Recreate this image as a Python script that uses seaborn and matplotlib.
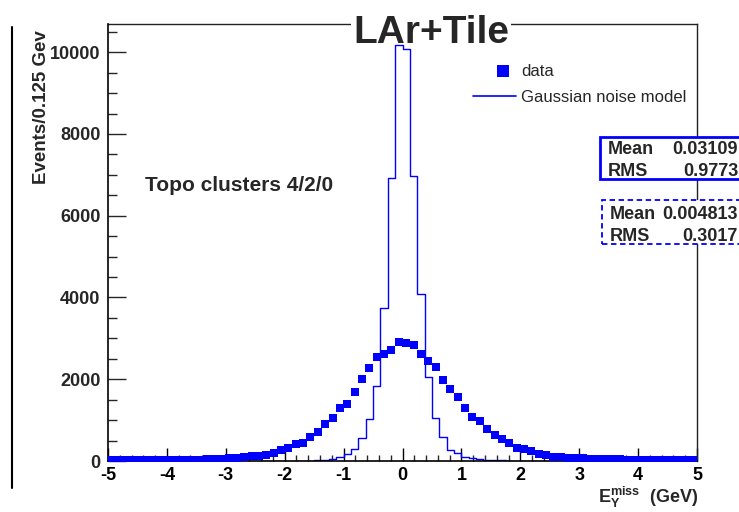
import numpy as np
import pandas as pd
import matplotlib
matplotlib.use("Agg")
import matplotlib.pyplot as plt
import seaborn as sns
from matplotlib.lines import Line2D
from matplotlib.patches import Rectangle
from matplotlib.ticker import MultipleLocator
from matplotlib.legend_handler import HandlerBase

# ---------------- data ----------------
x_min, x_max = -5.0, 5.0
n_bins = 80
bin_width = (x_max - x_min) / n_bins
bin_centers = x_min + bin_width * (np.arange(n_bins) + 0.5)

data_counts = [
    22, 22, 20, 23, 22, 25, 24, 26, 27, 28,
    30, 32, 35, 38, 45, 55, 70, 75, 90, 120,
    130, 150, 205, 270, 310, 410, 435, 580, 715, 895,
    1045, 1290, 1385, 1690, 1995, 2275, 2550, 2615, 2715, 2915,
    2880, 2845, 2615, 2435, 2305, 1975, 1755, 1570, 1305, 1085,
    980, 780, 645, 545, 435, 330, 298, 252, 172, 140,
    108, 100, 82, 72, 65, 58, 48, 45, 40, 38,
    35, 34, 32, 30, 28, 27, 26, 24, 24, 22,
]

noise_counts = [
    0, 0, 0, 0, 0, 0, 0, 0, 0, 0,
    0, 0, 0, 0, 0, 0, 0, 0, 0, 0,
    0, 0, 0, 0, 0, 5, 6, 8, 20, 35,
    60, 110, 163, 295, 555, 1020, 1835, 3750, 6930, 10170,
    10090, 6975, 4075, 2045, 1060, 580, 265, 188, 106, 80,
    55, 30, 22, 15, 10, 7, 5, 0, 0, 0,
    0, 0, 0, 0, 0, 0, 0, 0, 0, 0,
    0, 0, 0, 0, 0, 0, 0, 0, 0, 0,
]

x_ticks = [-5, -4, -3, -2, -1, 0, 1, 2, 3, 4, 5]
y_ticks = [0, 2000, 4000, 6000, 8000, 10000]

stats_data = [("Mean", "0.03109"), ("RMS", "0.9773")]
stats_noise = [("Mean", "0.004813"), ("RMS", "0.3017")]

df = pd.DataFrame({"x": bin_centers, "data": data_counts, "noise": noise_counts})

# ---------------- style ----------------
sns.set_style("white")
plt.rcParams["font.family"] = ["Liberation Sans", "DejaVu Sans"]
plt.rcParams["mathtext.fontset"] = "custom"
plt.rcParams["mathtext.rm"] = "Liberation Sans:bold"
plt.rcParams["mathtext.it"] = "Liberation Sans:bold"
plt.rcParams["mathtext.bf"] = "Liberation Sans:bold"

W, H = 739, 512
fig = plt.figure(figsize=(W / 100, H / 100), dpi=100)
AX_L, AX_R, AX_T, AX_B = 108, 697, 24, 461
ax = fig.add_axes([AX_L / W, (H - AX_B) / H, (AX_R - AX_L) / W, (AX_B - AX_T) / H])

def ax_x(px):
    return (px - AX_L) / (AX_R - AX_L)

def ax_y(py):
    return (AX_B - py) / (AX_B - AX_T)

blue = "#0000ff"

sns.histplot(data=df, x="x", weights="noise", bins=n_bins,
             binrange=(x_min, x_max), element="step",
             fill=False, color=blue, linewidth=1.0, ax=ax, zorder=2.4)
sns.scatterplot(data=df, x="x", y="data", marker="s", color=blue, s=32,
                linewidth=0, ax=ax, zorder=3)

ax.set_xlim(x_min, x_max)
ax.set_ylim(0, 10690)

ax.set_xticks(x_ticks)
ax.set_xticklabels([str(t) for t in x_ticks])
ax.set_yticks(y_ticks)
ax.set_yticklabels([str(t) for t in y_ticks])
ax.xaxis.set_minor_locator(MultipleLocator(0.2))
ax.yaxis.set_minor_locator(MultipleLocator(500))

ax.tick_params(axis="x", which="major", direction="in", length=9.5, width=1,
               bottom=True, top=False, pad=4, labelsize=13, colors="black")
ax.tick_params(axis="x", which="minor", direction="in", length=4.2, width=1,
               bottom=True, top=False)
ax.tick_params(axis="y", which="major", direction="in", length=13, width=1,
               left=True, right=False, pad=5.5, labelsize=13)
ax.tick_params(axis="y", which="minor", direction="in", length=6.5, width=1,
               left=True, right=False)
for lab in ax.get_xticklabels() + ax.get_yticklabels():
    lab.set_fontweight("bold")

for s in ["left", "bottom"]:
    ax.spines[s].set_color("black")
    ax.spines[s].set_linewidth(1.2)
for s in ["top", "right"]:
    ax.spines[s].set_color("#222222")
    ax.spines[s].set_linewidth(1.0)
ax.spines["top"].set_zorder(1.0)

ax.set_ylabel("Events/0.125 Gev", fontsize=13.5, fontweight="bold", loc="top")
ax.yaxis.set_label_coords(ax_x(50), ax_y(30))
ax.set_xlabel(r"$\mathrm{E}_{\mathrm{Y}}^{\mathrm{miss}}$  (GeV)", fontsize=13,
              fontweight="bold", loc="right")
ax.xaxis.label.set_verticalalignment("baseline")
ax.xaxis.set_label_coords(ax_x(698), ax_y(503))

# legend
class MarkerRight(HandlerBase):
    def create_artists(self, legend, orig_handle, xdescent, ydescent,
                       width, height, fontsize, trans):
        m = Line2D([-xdescent + width * 0.714], [height / 2 - ydescent],
                   marker="s", linestyle="none", color=blue, markersize=8,
                   markeredgewidth=0)
        m.set_transform(trans)
        return [m]

data_handle = Line2D([], [], marker="s", linestyle="none", color=blue)
model_handle = Line2D([], [], color=blue, linewidth=1.2)
fig.legend([data_handle, model_handle], ["data", "Gaussian noise model"],
           loc="center left", bbox_to_anchor=(473 / W, 1 - 84.5 / H),
           frameon=False, fontsize=12, handlelength=2.56, handletextpad=0.32,
           labelspacing=0.62, borderpad=0, borderaxespad=0,
           handler_map={data_handle: MarkerRight()})

ax.text(ax_x(145), ax_y(191), "Topo clusters 4/2/0", fontsize=15,
        fontweight="bold", ha="left", va="baseline", transform=ax.transAxes)

# title (covers the top frame line, under the histogram)
ax.text(ax_x(431), ax_y(43), "LAr+Tile", fontsize=28, fontweight="bold",
        ha="center", va="baseline", transform=ax.transAxes, clip_on=False,
        zorder=2.2, bbox=dict(facecolor="white", edgecolor="none", pad=1))

# stats boxes
def stats_box(x0, y0, y1, rows, row_y, ls, lw, text_x, val_x):
    rect = Rectangle((x0 / W, 1 - y1 / H), (W + 10 - x0) / W, (y1 - y0) / H,
                     transform=fig.transFigure, facecolor="white",
                     edgecolor=blue, linewidth=lw, linestyle=ls,
                     zorder=2, clip_on=False)
    fig.add_artist(rect)
    for (k, v), yc in zip(rows, row_y):
        fig.text(text_x / W, 1 - yc / H, k, fontsize=13, fontweight="bold",
                 ha="left", va="baseline", zorder=3)
        fig.text(val_x / W, 1 - yc / H, v, fontsize=13, fontweight="bold",
                 ha="right", va="baseline", zorder=3)

stats_box(600, 137, 178.5, stats_data, [154.5, 176], "-", 2.0, 608, 738)
stats_box(602, 200, 244, stats_noise, [219, 241], (0, (3, 2)), 1.3, 610, 738)

# canvas left line
fig.add_artist(Line2D([12 / W, 12 / W], [1 - 27 / H, 1 - 488 / H],
                      transform=fig.transFigure, color="black", linewidth=1.5))

fig.savefig("out.png", dpi=100)
